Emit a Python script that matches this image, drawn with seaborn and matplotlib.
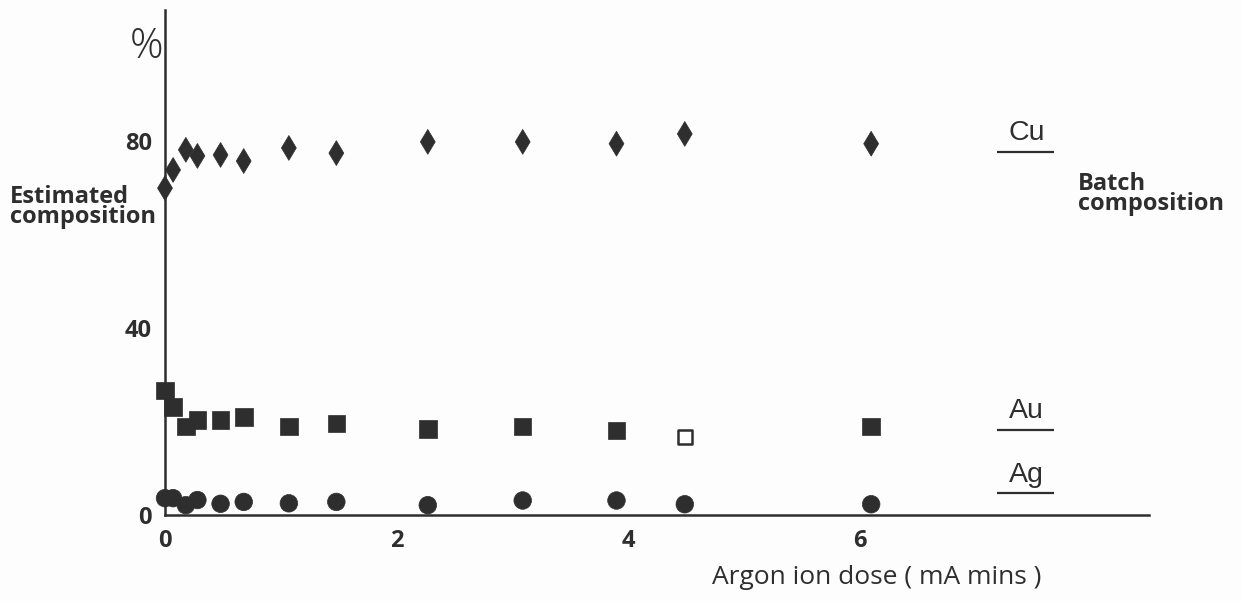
import matplotlib
matplotlib.use("Agg")
import matplotlib.pyplot as plt
import numpy as np
import pandas as pd
import seaborn as sns

# Argon ion dose (mA mins) for each surface analysis
dose = [0.0, 0.07, 0.18, 0.28, 0.48, 0.68, 1.07, 1.48, 2.27, 3.09, 3.90, 4.49, 6.10]

# Estimated composition (%) at each dose
cu_est = [69.9, 73.8, 78.1, 76.8, 77.0, 75.7, 78.5, 77.4, 79.8, 79.8, 79.4, 81.5, 79.4]
au_est = [26.6, 23.1, 18.9, 20.3, 20.3, 21.0, 18.9, 19.6, 18.4, 18.9, 18.1, 16.7, 18.9]
ag_est = [3.6, 3.6, 2.1, 3.2, 2.4, 2.8, 2.5, 2.8, 2.1, 3.1, 3.1, 2.3, 2.3]
au_open = [False, False, False, False, False, False, False, False, False, False, False, True, False]

# Batch (nominal) composition (%)
elements = ["Cu", "Au", "Ag"]
batch = [77.7, 18.2, 4.6]

x_ticks = [0, 2, 4, 6]
y_ticks = [0, 40, 80]

W, H = 1242, 601
ink = "#2e2e2e"

sns.set_theme(style="white")
plt.rcParams["font.family"] = ["Open Sans", "DejaVu Sans"]

fig = plt.figure(figsize=(W / 100, H / 100), dpi=100, facecolor="#fdfdfd")
ax = fig.add_axes([165 / W, 1 - 515 / H, (1149 - 165) / W, (515 - 10) / H])
ax.set_facecolor("none")

df = pd.DataFrame({
    "dose": dose * 3,
    "pct": cu_est + au_est + ag_est,
    "element": ["Cu"] * len(dose) + ["Au"] * len(dose) + ["Ag"] * len(dose),
    "open": [False] * len(dose) + au_open + [False] * len(dose),
})

filled = df[~df["open"]]
sns.scatterplot(data=filled, x="dose", y="pct", style="element",
                markers={"Cu": "d", "Au": "s", "Ag": "o"},
                s=160, color=ink, edgecolor=ink, linewidth=0.5,
                legend=False, ax=ax, zorder=3, clip_on=False)
hollow = df[df["open"]]
sns.scatterplot(data=hollow, x="dose", y="pct", marker="s", s=115,
                facecolor="white", edgecolor=ink, linewidth=1.8,
                legend=False, ax=ax, zorder=3, clip_on=False)

# Batch composition markers on the right
ax.hlines(batch, 7.19, 7.68, color=ink, linewidth=1.6)
for el, v in zip(elements, batch):
    ax.text(7.44, v + 1.2, el, ha="center", va="bottom", fontsize=20.5,
            color=ink, family=["Liberation Sans", "DejaVu Sans"])

ax.set_xlim(0, 8.5)
ax.set_ylim(0, 108)
ax.set_xticks(x_ticks)
ax.set_yticks(y_ticks)
ax.set_xticklabels([str(t) for t in x_ticks], fontweight="bold", fontsize=17,
                   color=ink)
ax.set_yticklabels([str(t) for t in y_ticks], fontweight="bold", fontsize=17,
                   color=ink)
ax.tick_params(axis="x", direction="out", length=8, width=1.6, color=ink, pad=2)
ax.tick_params(axis="y", direction="out", length=7.5, width=1.6, color=ink, pad=2)
ax.xaxis.get_major_ticks()[0].tick1line.set_visible(False)
ax.yaxis.get_major_ticks()[0].tick1line.set_visible(False)

for side in ["top", "right"]:
    ax.spines[side].set_visible(False)
for side in ["left", "bottom"]:
    ax.spines[side].set_color(ink)
    ax.spines[side].set_linewidth(1.8)

ax.set_xlabel("")
ax.set_ylabel("")

fig.text(877 / W, 1 - 578 / H, "Argon ion dose ( mA mins )", ha="center",
         va="center", fontsize=19, color=ink)
fig.text(147 / W, 1 - 47 / H, "%", ha="center", va="center", fontsize=30,
         fontweight="light", color=ink)
fig.text(10 / W, 1 - 207 / H, "Estimated\ncomposition", ha="left",
         va="center", fontsize=17, fontweight="bold", color=ink,
         linespacing=0.8)
fig.text(1078 / W, 1 - 194 / H, "Batch\ncomposition", ha="left",
         va="center", fontsize=17, fontweight="bold", color=ink,
         linespacing=0.8)

fig.savefig("out.png", dpi=100, facecolor=fig.get_facecolor())
